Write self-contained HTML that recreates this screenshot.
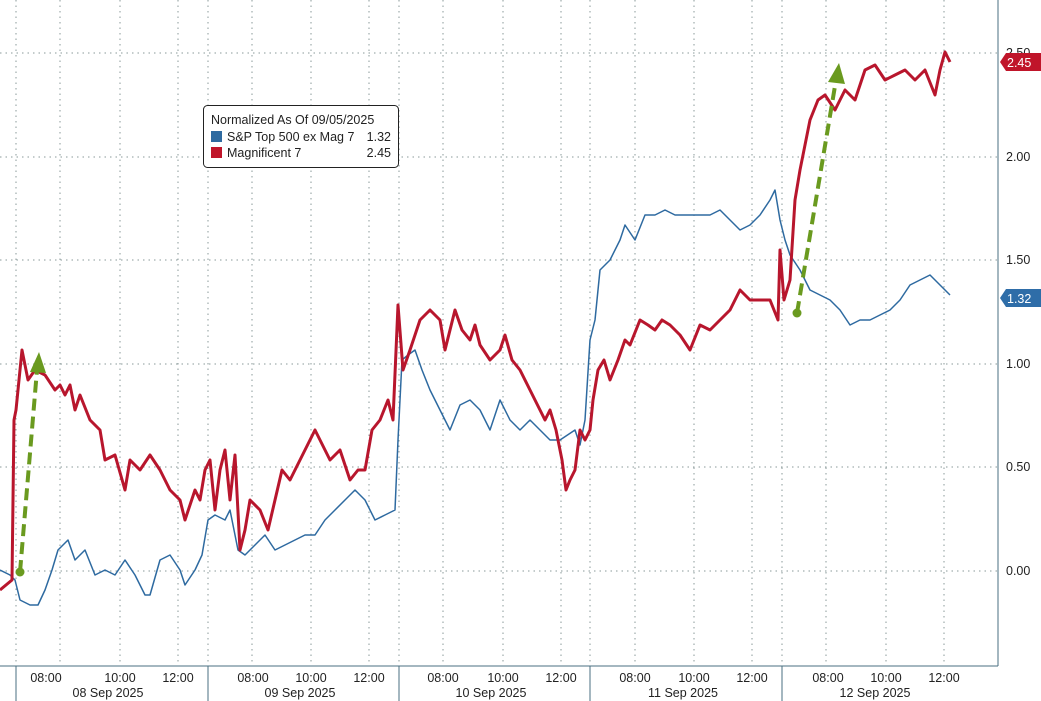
<!DOCTYPE html>
<html><head><meta charset="utf-8"><style>
html,body{margin:0;padding:0;background:#fff;}
svg{display:block;font-family:"Liberation Sans",sans-serif;}
</style></head><body>
<svg width="1041" height="701" viewBox="0 0 1041 701" xmlns="http://www.w3.org/2000/svg">
<rect width="1041" height="701" fill="#fff"/>
<g stroke="#8a9a9a" stroke-width="1" stroke-dasharray="1.5,4">
<line x1="0" y1="53" x2="998" y2="53"/><line x1="0" y1="157" x2="998" y2="157"/>
<line x1="0" y1="260" x2="998" y2="260"/><line x1="0" y1="364" x2="998" y2="364"/>
<line x1="0" y1="467" x2="998" y2="467"/><line x1="0" y1="571" x2="998" y2="571"/>
<line x1="60" y1="0" x2="60" y2="666"/><line x1="120" y1="0" x2="120" y2="666"/><line x1="178" y1="0" x2="178" y2="666"/>
<line x1="252" y1="0" x2="252" y2="666"/><line x1="311" y1="0" x2="311" y2="666"/><line x1="369" y1="0" x2="369" y2="666"/>
<line x1="443" y1="0" x2="443" y2="666"/><line x1="503" y1="0" x2="503" y2="666"/><line x1="561" y1="0" x2="561" y2="666"/>
<line x1="635" y1="0" x2="635" y2="666"/><line x1="694" y1="0" x2="694" y2="666"/><line x1="752" y1="0" x2="752" y2="666"/>
<line x1="826" y1="0" x2="826" y2="666"/><line x1="886" y1="0" x2="886" y2="666"/><line x1="944" y1="0" x2="944" y2="666"/>
<line x1="16" y1="0" x2="16" y2="666"/><line x1="208" y1="0" x2="208" y2="666"/><line x1="399" y1="0" x2="399" y2="666"/><line x1="590" y1="0" x2="590" y2="666"/><line x1="782" y1="0" x2="782" y2="666"/>
</g>
<g stroke="#4a6f80" stroke-width="1">
<line x1="0" y1="666" x2="998" y2="666"/><line x1="998" y1="0" x2="998" y2="666"/>
<line x1="16" y1="666" x2="16" y2="701"/><line x1="208" y1="666" x2="208" y2="701"/><line x1="399" y1="666" x2="399" y2="701"/><line x1="590" y1="666" x2="590" y2="701"/><line x1="782" y1="666" x2="782" y2="701"/>
</g>
<g font-size="12.5" fill="#222" text-anchor="middle">
<text x="46" y="682">08:00</text><text x="120" y="682">10:00</text><text x="178" y="682">12:00</text>
<text x="253" y="682">08:00</text><text x="311" y="682">10:00</text><text x="369" y="682">12:00</text>
<text x="443" y="682">08:00</text><text x="503" y="682">10:00</text><text x="561" y="682">12:00</text>
<text x="635" y="682">08:00</text><text x="694" y="682">10:00</text><text x="752" y="682">12:00</text>
<text x="828" y="682">08:00</text><text x="886" y="682">10:00</text><text x="944" y="682">12:00</text>
<text x="108" y="697">08 Sep 2025</text><text x="300" y="697">09 Sep 2025</text><text x="491" y="697">10 Sep 2025</text><text x="683" y="697">11 Sep 2025</text><text x="875" y="697">12 Sep 2025</text>
</g>
<g font-size="12.5" fill="#222">
<text x="1006" y="57">2.50</text><text x="1006" y="161">2.00</text><text x="1006" y="264">1.50</text>
<text x="1006" y="368">1.00</text><text x="1006" y="471">0.50</text><text x="1006" y="575">0.00</text>
</g>
<polygon points="1000,62 1006,53 1041,53 1041,71 1006,71" fill="#c0152a"/>
<text x="1007" y="67" font-size="12.5" fill="#fff">2.45</text>
<polygon points="1000,298 1006,289 1041,289 1041,307 1006,307" fill="#2e6da8"/>
<text x="1007" y="303" font-size="12.5" fill="#fff">1.32</text>
<polyline fill="none" stroke="#2e6aa0" stroke-width="1.5" stroke-linejoin="round" points="0,570 10,575 15,580 20,600 30,605 38,605 45,590 52,570 58,550 68,540 75,560 85,550 95,575 105,570 115,575 125,560 135,575 145,595 150,595 160,560 170,555 180,570 185,585 195,570 202,555 208,520 215,515 225,520 230,510 238,550 245,555 255,545 265,535 275,550 285,545 295,540 305,535 315,535 325,520 335,510 345,500 355,490 365,500 375,520 385,515 395,510 398,440 402,360 408,355 415,350 422,370 430,390 440,410 450,430 460,405 470,400 480,410 490,430 500,400 510,420 520,430 530,420 540,430 550,440 560,440 575,430 580,445 585,420 590,340 595,320 600,270 610,260 620,240 625,225 635,240 645,215 655,215 665,210 675,215 685,215 700,215 710,215 720,210 730,220 740,230 750,225 760,215 770,200 775,190 780,220 785,240 790,255 800,270 810,290 820,295 830,300 840,310 850,325 860,320 870,320 880,315 890,310 900,300 910,285 920,280 930,275 940,285 950,295"/>
<polyline fill="none" stroke="#b8162d" stroke-width="3" stroke-linejoin="round" points="0,590 12,580 14,420 16,410 22,350 28,380 35,370 45,375 55,390 60,385 65,395 70,385 75,410 80,395 90,420 100,430 105,460 115,455 125,490 130,460 140,470 150,455 160,470 170,490 180,500 185,520 195,490 200,500 205,470 210,460 215,510 220,470 225,450 230,500 235,455 240,550 245,530 250,500 260,510 268,530 275,500 282,470 290,480 300,460 310,440 315,430 320,440 330,460 340,450 350,480 358,470 365,470 372,430 380,420 388,400 393,420 398,305 403,370 410,350 420,320 430,310 440,320 445,350 455,310 462,330 470,340 475,325 480,345 490,360 500,350 505,335 512,360 520,370 530,390 540,410 545,420 550,410 556,430 562,460 566,490 570,480 575,470 580,430 585,440 590,430 593,400 598,370 604,360 610,380 618,360 625,340 630,345 640,320 648,325 655,330 662,320 670,325 680,335 690,350 700,325 710,330 720,320 730,310 740,290 750,300 760,300 770,300 778,320 780,250 784,300 790,280 795,200 800,170 810,120 818,100 825,95 835,110 845,90 855,100 865,70 875,65 885,80 895,75 905,70 915,80 925,70 935,95 940,70 945,52 950,62"/>
<g stroke="#6a9a1f" stroke-width="4" stroke-dasharray="12,6" fill="none">
<line x1="20" y1="572" x2="37" y2="370"/><line x1="797" y1="313" x2="836" y2="80"/>
</g>
<circle cx="20" cy="572" r="4.5" fill="#6a9a1f"/><circle cx="797" cy="313" r="4.5" fill="#6a9a1f"/>
<polygon points="39,352 30,372 46,373" fill="#6a9a1f"/>
<polygon points="839,63 828,82 845,84" fill="#6a9a1f"/>
<rect x="203.5" y="105.5" width="195" height="62" rx="4" fill="#fff" stroke="#222"/>
<g font-size="12.5" fill="#222">
<text x="211" y="124">Normalized As Of 09/05/2025</text>
<rect x="211" y="131" width="11" height="11" fill="#2e6aa0"/>
<text x="227" y="141">S&amp;P Top 500 ex Mag 7</text><text x="391" y="141" text-anchor="end">1.32</text>
<rect x="211" y="147" width="11" height="11" fill="#c0152a"/>
<text x="227" y="157">Magnificent 7</text><text x="391" y="157" text-anchor="end">2.45</text>
</g>
</svg>
</body></html>
